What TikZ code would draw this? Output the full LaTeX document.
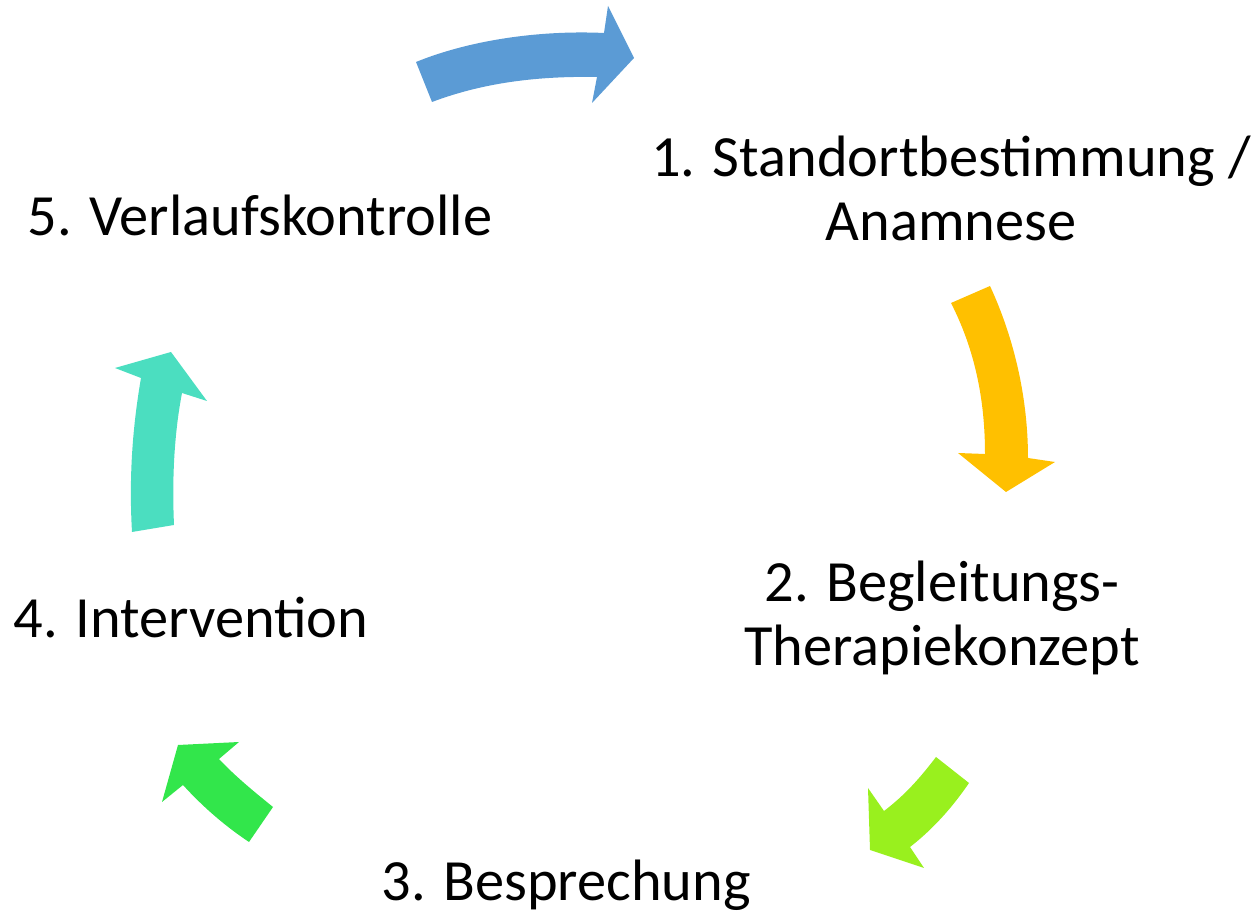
\documentclass[tikz,border=0pt]{standalone}
\usepackage{fontspec}
\setmainfont{Carlito}
\usepackage{tikz}

\definecolor{arrblue}{RGB}{91,155,213}
\definecolor{arrorange}{RGB}{255,192,0}
\definecolor{arrlime}{RGB}{153,240,30}
\definecolor{arrgreen}{RGB}{50,230,75}
\definecolor{arrteal}{RGB}{75,222,192}

\begin{document}
\begin{tikzpicture}[x=0.01cm,y=-0.01cm,
		lbl/.style={align=center,font=\fontsize{16.6}{18.2}\selectfont,inner sep=0pt}]
	\useasboundingbox (0,0) rectangle (1254,916);
	% labels
	\node[lbl] (std) at (951,188) {1. Standortbestimmung /\\Anamnese};
	\node[lbl] (begl) at (942,618) {2. Begleitungs-\\Therapiekonzept};
	\node[lbl] (bespr) at (566,885) {3. Besprechung};
	\node[lbl] (interv) at (191,618) {4. Intervention};
	\node[lbl] (verl) at (260,215) {5. Verlaufskontrolle};
	% block arrows
	\fill[arrblue] (416,62) .. controls (470,40) and (540,30) .. (604,33) -- (608,6)
		-- (634,58) -- (592,103) -- (597,77) .. controls (540,76) and (485,82) .. (432,102) -- cycle;
	\fill[arrorange] (990,286) .. controls (1015,340) and (1028,400) .. (1028,458) -- (1055,462)
		-- (1006,492) -- (958,453) -- (985,454) .. controls (985,400) and (975,350) .. (951,303) -- cycle;
	\fill[arrlime] (969,783) .. controls (952,808) and (932,830) .. (910,847) -- (924,868)
		-- (870,850) -- (868,788) -- (884,811) .. controls (905,795) and (920,778) .. (936,757) -- cycle;
	\fill[arrgreen] (249,842) .. controls (225,826) and (203,807) .. (183,785) -- (162,802)
		-- (178,745) -- (239,742) -- (219,759) .. controls (235,776) and (252,790) .. (273,807) -- cycle;
	\fill[arrteal] (132,532) .. controls (129,480) and (132,430) .. (141,378) -- (115,368)
		-- (171,352) -- (207,401) -- (182,393) .. controls (174,435) and (172,480) .. (174,525) -- cycle;
\end{tikzpicture}
\end{document}
